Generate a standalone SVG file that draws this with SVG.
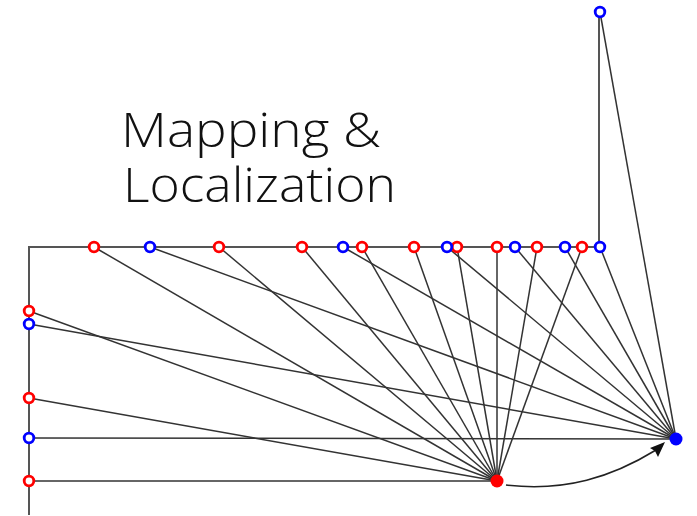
<svg xmlns="http://www.w3.org/2000/svg" width="697" height="516" viewBox="0 0 697 516">
  <defs>
    <style>
      .path { fill: none; stroke: #555; stroke-width: 2; }
      .ray { stroke: #333; stroke-width: 1.5; }
      .lm-red { fill: #fff; stroke: #f00; stroke-width: 2.8; }
      .lm-blue { fill: #fff; stroke: #00f; stroke-width: 2.8; }
      .title { font-family: "Open Sans", "Liberation Sans", Arial, sans-serif; font-weight: 300; font-size: 47px; fill: #111; }
    </style>
  </defs>
  <rect width="697" height="516" fill="#fff"/>

  <!-- trajectory -->
  <polyline class="path" points="29,515 29,247 599,247 599,12"/>

  <!-- observation rays -->
  <g id="connectors">
    <g class="ray">
      <line x1="94" y1="247" x2="497" y2="481"/>
      <line x1="219" y1="247" x2="497" y2="481"/>
      <line x1="302" y1="247" x2="497" y2="481"/>
      <line x1="362" y1="247" x2="497" y2="481"/>
      <line x1="414" y1="247" x2="497" y2="481"/>
      <line x1="457" y1="247" x2="497" y2="481"/>
      <line x1="497" y1="247" x2="497" y2="481"/>
      <line x1="537" y1="247" x2="497" y2="481"/>
      <line x1="582" y1="247" x2="497" y2="481"/>
      <line x1="29" y1="311" x2="497" y2="481"/>
      <line x1="29" y1="398" x2="497" y2="481"/>
      <line x1="29" y1="481" x2="497" y2="481"/>

      <line x1="150" y1="247" x2="676" y2="439"/>
      <line x1="343" y1="247" x2="676" y2="439"/>
      <line x1="447" y1="247" x2="676" y2="439"/>
      <line x1="515" y1="247" x2="676" y2="439"/>
      <line x1="565" y1="247" x2="676" y2="439"/>
      <line x1="600" y1="247" x2="676" y2="439"/>
      <line x1="29" y1="324" x2="676" y2="439"/>
      <line x1="29" y1="438" x2="676" y2="439"/>
      <line x1="600" y1="12" x2="676" y2="439"/>
    </g>
    <!-- motion between poses -->
    <path d="M506,485 C565,492 612,477 656,450" fill="none" stroke="#222" stroke-width="1.6"/>
    <path d="M665,442 L650,448 L655,451 L658,457 Z" fill="#111"/>
  </g>

  <!-- landmarks -->
  <g id="landmarks-red">
    <circle class="lm-red" cx="94" cy="247" r="4.8"/>
    <circle class="lm-red" cx="219" cy="247" r="4.8"/>
    <circle class="lm-red" cx="302" cy="247" r="4.8"/>
    <circle class="lm-red" cx="362" cy="247" r="4.8"/>
    <circle class="lm-red" cx="414" cy="247" r="4.8"/>
    <circle class="lm-red" cx="457" cy="247" r="4.8"/>
    <circle class="lm-red" cx="497" cy="247" r="4.8"/>
    <circle class="lm-red" cx="537" cy="247" r="4.8"/>
    <circle class="lm-red" cx="582" cy="247" r="4.8"/>
    <circle class="lm-red" cx="29" cy="311" r="4.8"/>
    <circle class="lm-red" cx="29" cy="398" r="4.8"/>
    <circle class="lm-red" cx="29" cy="481" r="4.8"/>
  </g>
  <g id="landmarks-blue">
    <circle class="lm-blue" cx="150" cy="247" r="4.8"/>
    <circle class="lm-blue" cx="343" cy="247" r="4.8"/>
    <circle class="lm-blue" cx="447" cy="247" r="4.8"/>
    <circle class="lm-blue" cx="515" cy="247" r="4.8"/>
    <circle class="lm-blue" cx="565" cy="247" r="4.8"/>
    <circle class="lm-blue" cx="600" cy="247" r="4.8"/>
    <circle class="lm-blue" cx="29" cy="324" r="4.8"/>
    <circle class="lm-blue" cx="29" cy="438" r="4.8"/>
    <circle class="lm-blue" cx="600" cy="12" r="4.8"/>
  </g>

  <!-- robot poses -->
  <g id="pose-red"><circle cx="497" cy="481" r="6.5" fill="#f00"/></g>
  <g id="pose-blue"><circle cx="676" cy="439" r="6.5" fill="#00f"/></g>

  <g id="title">
    <text class="title" x="121" y="147" textLength="260" lengthAdjust="spacingAndGlyphs">Mapping &amp;</text>
    <text class="title" x="123" y="202" textLength="273" lengthAdjust="spacingAndGlyphs">Localization</text>
  </g>
</svg>
